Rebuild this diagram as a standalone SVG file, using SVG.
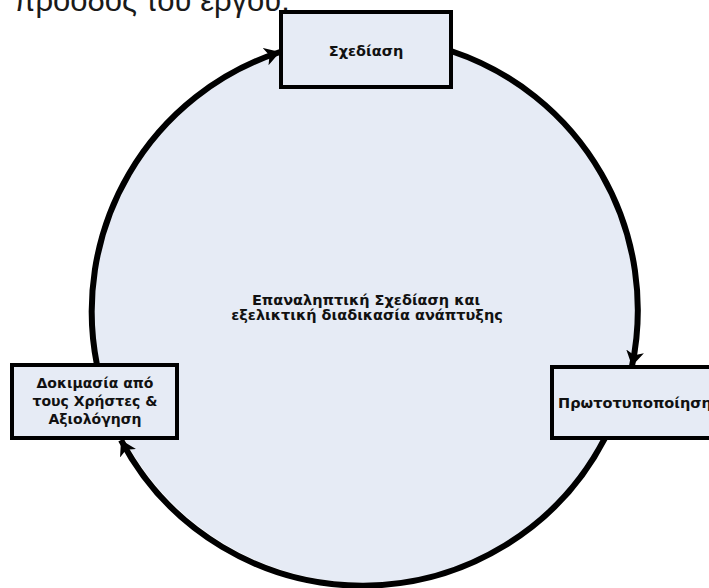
<svg xmlns="http://www.w3.org/2000/svg" width="709" height="588" viewBox="0 0 709 588">
  <style>
    .box { fill: #E6EBF5; stroke: #000; stroke-width: 4; }
    .lbl { font-family: "DejaVu Sans", "Liberation Sans", sans-serif; font-weight: bold; fill: #111; text-anchor: middle; }
    .conn { fill: none; stroke: #000; stroke-width: 6; }
  </style>
  <defs>
    <marker id="arrow" markerUnits="userSpaceOnUse" markerWidth="20" markerHeight="20" refX="15" refY="9" orient="auto">
      <path d="M0,0 L15,9 L0,18 L4,9 Z" fill="#000"/>
    </marker>
  </defs>
  <rect width="709" height="588" fill="#fff"/>
  <text x="14" y="11" font-family="Liberation Sans, Arial, sans-serif" font-size="31" fill="#1a1a1a">πρόοδος του έργου.</text>
  <circle id="cycle" cx="365" cy="310" r="273" fill="#E6EBF5"/>
  <g id="connectors">
    <path class="conn" d="M 97 365 A 273 273 0 0 1 280 52" marker-end="url(#arrow)"/>
    <path class="conn" d="M 451 51 A 273 273 0 0 1 632 366" marker-end="url(#arrow)"/>
    <path class="conn" d="M 605 438 A 273 273 0 0 1 121 440" marker-end="url(#arrow)"/>
  </g>
  <g id="center">
    <text class="lbl" x="366" y="305" font-size="14.5">Επαναληπτική Σχεδίαση και</text>
    <text class="lbl" x="367" y="320" font-size="14.5">εξελικτική διαδικασία ανάπτυξης</text>
  </g>
  <g id="design">
    <rect class="box" x="281" y="12" width="170" height="75"/>
    <text class="lbl" x="366" y="56" font-size="14.5">Σχεδίαση</text>
  </g>
  <g id="prototype">
    <rect class="box" x="552" y="367" width="170" height="71"/>
    <text class="lbl" x="635" y="408" font-size="14.5">Πρωτοτυποποίηση</text>
  </g>
  <g id="testing">
    <rect class="box" x="12" y="365" width="165" height="73"/>
    <text class="lbl" x="95" y="388" font-size="14">Δοκιμασία από</text>
    <text class="lbl" x="95" y="406" font-size="14">τους Χρήστες &amp;</text>
    <text class="lbl" x="95" y="424" font-size="14">Αξιολόγηση</text>
  </g>
</svg>
